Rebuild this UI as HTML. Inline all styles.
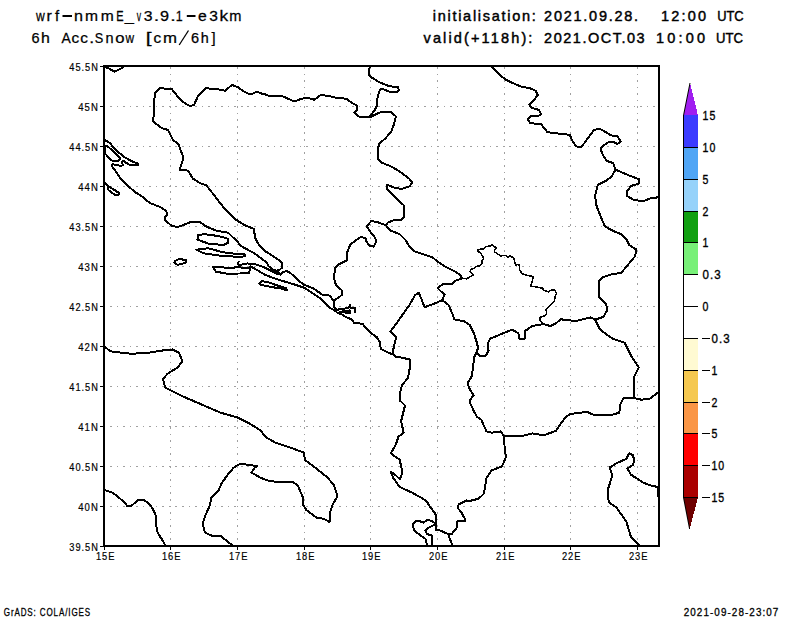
<!DOCTYPE html><html><head><meta charset="utf-8"><style>html,body{margin:0;padding:0;background:#fff;width:800px;height:618px;overflow:hidden}svg{display:block}text{font-family:"Liberation Sans",sans-serif;fill:#000}</style></head><body>
<svg width="800" height="618" viewBox="0 0 800 618">
<path d="M170.5,67V545 M237.5,67V545 M304.5,67V545 M370.5,67V545 M437.5,67V545 M504.5,67V545 M570.5,67V545 M637.5,67V545" stroke="#a0a0a0" stroke-width="1" stroke-dasharray="1.6 4.945" stroke-dashoffset="0" fill="none" shape-rendering="crispEdges"/>
<path d="M104,106.5H658 M104,146.5H658 M104,186.5H658 M104,226.5H658 M104,266.5H658 M104,306.5H658 M104,346.5H658 M104,386.5H658 M104,426.5H658 M104,466.5H658 M104,506.5H658" stroke="#a0a0a0" stroke-width="1" stroke-dasharray="1.6 4.945" stroke-dashoffset="0.545" fill="none" shape-rendering="crispEdges"/>
<path d="M104.0,66.5 L109.0,68.5 L114.6,71.7 L122.0,68.0 L124.0,66.5 M276.0,271.0 L279.9,269.5 L282.1,267.7 L281.6,262.5 L279.9,260.7 L272.0,255.5 L265.0,251.1 L258.9,245.0 L255.2,238.0 L253.8,228.9 L244.1,225.0 L235.3,219.2 L223.7,207.6 L214.0,195.0 L206.2,185.2 L200.4,183.3 L192.6,178.4 L188.3,170.7 L179.6,169.7 L183.5,158.0 L178.6,144.5 L172.8,139.6 L168.0,129.9 L162.1,128.3 L152.8,121.2 L154.0,114.4 L154.4,98.8 L155.3,93.0 L160.2,88.2 L171.8,89.1 L179.6,98.8 L185.4,103.7 L190.3,106.2 L194.2,104.7 L198.0,95.9 L205.8,88.2 L216.5,89.1 L225.2,90.7 L232.0,84.9 L237.8,87.2 L244.6,92.0 L249.4,94.0 L253.3,93.4 L256.8,91.7 L261.1,93.4 L265.9,94.6 L269.8,96.5 L282.4,96.1 L288.3,98.8 L294.1,101.4 L299.9,99.4 L306.7,97.5 L314.5,99.8 L317.4,97.3 L320.9,95.0 L329.0,96.0 L334.9,97.5 L346.5,98.8 L351.4,102.7 L357.2,105.6 L357.2,110.5 L354.3,112.4 L358.2,116.3 L364.0,117.3 L369.7,117.3 M369.7,66.5 L368.7,74.6 L371.7,77.5 L379.4,82.3 L389.1,86.2 L397.9,87.2 L398.8,90.1 L396.9,92.0 L390.1,92.0 L383.3,89.1 L380.4,89.1 L378.4,94.0 L377.1,99.8 L377.5,104.7 L374.6,110.5 L370.7,115.3 L369.7,117.3 M369.7,117.3 L377.5,113.4 L382.3,111.5 L391.1,112.4 L395.9,116.3 L394.0,124.1 L391.1,131.8 L385.2,138.6 L379.4,143.5 L377.5,150.3 L377.5,159.0 L382.3,162.9 L392.0,166.8 L401.0,172.5 L409.0,178.5 L412.2,182.6 L409.3,186.5 L401.6,189.0 L393.8,187.5 L387.0,184.6 L387.0,189.4 L393.8,196.2 L403.5,205.0 L404.5,216.6 L401.6,219.5 L395.7,219.5 L388.0,222.4 L386.0,225.3 M386.0,225.3 L378.3,222.4 L371.5,220.9 L366.6,226.3 L370.5,232.1 L375.3,238.0 L376.3,241.8 L373.4,246.7 L369.5,245.7 L366.6,241.8 L365.6,238.0 L360.8,237.0 L355.0,240.9 L350.1,244.8 L347.3,252.0 L347.3,260.3 L339.0,264.2 L335.2,268.0 L333.8,277.5 L336.0,285.0 L341.5,290.0 L342.3,294.4 L339.6,296.9 L333.7,300.6 M386.0,225.3 L389.9,230.2 L399.6,234.1 L405.4,239.9 L410.3,247.7 L415.1,251.6 L432.6,257.4 L438.4,262.2 L444.3,266.1 L454.0,271.0 L460.1,274.7 L462.0,278.5 M462.0,278.5 L455.2,280.9 L451.4,284.4 L443.0,284.0 L437.5,288.0 L441.7,292.1 L444.6,294.1 L442.3,300.2 M442.3,300.2 L433.9,303.8 L424.5,307.2 L421.6,299.4 L418.6,292.6 L414.8,295.5 L409.9,304.3 L398.3,320.8 L390.5,331.5 L396.3,337.3 L394.4,344.1 L392.4,353.8 L393.4,354.8 M442.3,300.2 L448.4,304.8 L452.3,313.5 L454.3,319.3 L464.0,321.3 L469.8,325.1 L473.7,332.9 L476.6,341.7 L478.1,347.9 L476.8,351.8 M476.8,351.8 L479.4,355.7 L485.9,355.7 L488.5,350.5 L488.3,342.6 L490.2,338.7 L498.9,335.0 L511.8,329.8 L515.5,331.5 L518.5,333.5 L518.5,338.5 L524.5,338.5 L524.5,333.5 L525.1,331.0 L532.5,325.9 L540.3,324.6 L543.6,324.2 M543.6,324.2 L550.6,326.1 L556.2,323.2 L560.6,319.3 L575.8,321.0 L590.9,317.4 L595.0,319.6 M595.0,319.6 L603.3,316.9 L607.4,310.0 L606.1,304.5 L599.2,297.6 L599.2,281.1 L603.3,277.0 L611.6,274.2 L621.2,272.9 L628.1,264.6 L635.0,256.3 L636.3,249.5 L629.5,245.3 L626.7,239.8 L621.2,234.3 L611.6,230.2 L604.7,226.1 L600.6,216.4 L596.4,205.4 L595.0,195.8 L597.8,184.8 L606.1,180.6 L611.6,176.5 L615.5,169.6 M615.5,169.6 L628.1,175.1 L639.1,179.3 L639.1,183.4 L630.8,186.1 L626.7,191.7 L626.7,195.8 L633.6,199.9 L643.2,201.3 L650.1,198.5 L658.5,197.2 M491.1,66.5 L497.4,72.7 L504.9,79.1 L511.2,82.3 L521.9,87.0 L529.3,88.0 L535.7,90.8 L537.8,95.1 L534.6,99.3 L529.3,104.6 L531.4,107.8 L538.9,109.9 L541.0,114.2 L537.8,116.3 L530.4,116.3 L527.8,119.5 L530.4,123.1 L541.0,124.2 L545.2,129.1 L547.4,132.2 L555.9,133.3 L569.7,134.8 L572.9,141.8 L576.1,146.1 L580.3,147.5 L584.6,142.9 L589.9,135.4 L594.1,130.1 L599.4,128.6 L605.8,132.2 L611.1,135.4 L617.5,136.1 L620.7,141.8 L617.5,143.9 L613.2,141.8 L609.0,141.8 L602.6,146.1 L600.5,149.2 L603.7,156.7 L606.9,160.9 L613.2,163.1 L615.5,169.6 M595.0,319.6 L600.0,329.5 L612.8,338.9 L624.5,342.7 L631.0,355.7 L638.8,367.4 L633.6,377.7 L633.6,397.9 M633.6,397.9 L641.3,399.7 L650.4,398.4 L656.9,393.3 L658.5,392.7 M633.6,397.9 L623.2,398.4 L620.6,403.6 L619.3,412.7 L610.3,415.3 L594.7,415.3 L586.9,411.9 L570.1,414.0 L564.9,417.9 L555.9,430.8 L545.5,434.7 L540.3,434.7 L532.5,433.4 L522.2,436.0 L504.0,436.0 M504.0,436.0 L500.7,431.4 L491.7,432.7 L486.5,431.4 L481.3,419.8 L476.8,416.6 L473.6,410.7 L470.4,403.6 L469.7,400.4 L473.6,395.2 L469.1,388.1 L467.8,382.9 L471.7,376.4 L473.0,367.4 L474.2,357.0 L476.8,351.8 M504.0,436.0 L504.6,447.0 L505.9,457.3 L502.0,466.4 L491.7,470.3 L486.5,478.0 L483.9,493.6 L478.7,498.7 L468.4,501.3 L466.5,500.4 L458.6,504.4 L457.7,507.9 L461.2,512.2 L464.7,518.4 L464.7,521.4 L458.6,520.6 L456.9,522.3 L457.3,527.1 L451.6,534.1 M448.1,534.1 L452.5,545.5 M104.5,140.0 L107.5,141.5 L109.8,143.0 L111.8,145.4 L114.1,147.7 L116.8,150.4 L119.5,153.1 L121.5,154.7 L124.6,157.4 L127.3,158.6 L131.1,160.9 L137.6,163.5 L138.5,165.1 L130.4,165.1 L127.2,163.5 L123.0,160.6 L122.0,161.6 L122.7,165.4 L120.1,166.1 L118.1,164.8 L114.9,164.8 L112.3,164.1 L111.7,165.8 L112.5,167.0 L115.0,170.0 L120.0,178.0 L128.0,186.0 L135.0,192.0 L138.0,194.0 L143.0,197.0 L146.0,200.0 L150.0,203.0 L155.0,205.0 L159.9,206.9 L166.3,210.9 L167.2,215.0 L164.7,217.4 L165.5,220.6 L171.2,225.5 L176.9,227.1 L184.1,224.7 L191.3,221.7 L200.0,221.8 L204.9,225.9 L216.5,230.8 L228.2,232.7 L237.3,241.6 L241.0,246.0 L255.5,254.0 L266.7,262.5 L268.5,266.0 L272.0,269.1 L277.2,271.2 L280.7,274.7 L282.5,272.1 L286.9,271.2 L290.4,273.0 L300.0,281.7 L303.8,284.7 L313.5,288.5 L323.2,295.3 L329.4,295.5 L333.7,300.6 L333.7,306.7 L336.6,309.7 M238.7,261.6 L237.9,264.2 L239.6,265.1 L247.5,263.4 L257.1,264.7 L265.0,267.7 L272.0,271.2 L277.2,273.9 L280.7,274.7 M251.0,266.4 L254.5,268.6 L265.0,274.7 L273.7,278.2 L282.5,280.9 L291.2,283.5 L296.5,285.2 L303.8,287.6 L311.6,292.4 L321.3,299.2 L329.4,307.5 L334.5,310.4 L338.1,313.3 L342.5,314.7 L345.4,316.9 L351.2,319.1 L354.1,322.8 L359.9,323.5 L362.8,324.2 L365.8,327.8 L371.3,333.2 L376.9,337.3 L379.8,342.1 L380.8,348.9 L386.6,351.8 L393.4,354.8 L395.3,356.7 L402.1,357.7 L409.9,359.6 L409.9,367.4 L408.0,378.1 L402.1,384.9 L400.2,392.6 L399.8,400.4 L405.0,405.5 L401.1,421.1 L403.7,432.7 L398.5,436.6 L395.9,444.4 L390.7,453.4 L399.8,459.9 L402.4,472.8 L399.8,479.3 L395.9,475.4 L390.7,471.6 L393.3,478.0 L399.8,487.1 L411.4,492.3 L422.7,498.5 L427.1,501.7 L429.7,506.6 L435.0,513.1 L435.9,515.7 L435.9,530.2 L439.4,530.2 L448.1,534.1 L451.6,534.1 M337.4,309.7 L341.7,308.9 L348.3,308.2 L350.1,304.6 L350.5,307.5 L354.8,307.5 L355.2,312.2 M339.6,311.6 L345.0,312.5 L350.5,313.3 L349.5,310.5 L343.0,310.8 M435.9,523.6 L433.2,525.4 L428.0,528.0 L425.4,530.6 L427.1,534.1 L431.9,535.4 L431.9,545.5 M435.9,523.6 L432.4,521.4 L428.0,519.7 L423.2,522.7 L420.1,521.4 L415.7,521.4 L413.1,523.6 L413.1,527.1 L414.9,531.5 L420.1,535.0 L425.4,538.9 L427.1,545.5 M658.5,487.2 L650.6,485.4 L643.4,482.8 L631.0,474.7 L627.4,468.5 L632.8,465.0 L634.5,460.5 L632.8,455.1 L629.2,453.4 L626.5,458.7 L616.7,463.2 L609.6,467.6 L612.3,475.6 L607.8,489.9 L608.7,502.4 L616.7,507.7 L626.5,522.0 L631.0,537.1 L639.9,545.5 M104.5,346.3 L110.0,351.3 L120.0,352.5 L131.3,353.8 L150.0,352.5 L162.5,350.5 L172.5,349.5 L178.8,352.5 L182.5,361.3 L177.5,367.5 L167.5,373.8 L163.0,378.8 L165.0,387.5 L172.5,391.3 L182.5,396.3 L200.0,403.8 L220.0,412.5 L237.5,417.5 L250.0,423.8 L260.0,430.0 L266.3,437.5 L275.0,442.5 L290.0,447.5 L303.8,452.5 L305.0,460.0 L315.0,467.5 L327.5,477.5 L333.8,485.0 L337.5,496.3 L332.5,505.0 L330.0,512.5 L329.5,522.0 L323.8,518.8 L316.3,517.5 L306.3,510.0 L302.5,503.8 L302.5,496.3 L297.5,485.0 L292.5,482.0 L282.5,482.0 L270.0,481.3 L260.0,477.5 L251.3,472.5 L255.0,467.5 L257.5,466.3 L250.0,465.0 L240.0,463.8 L233.8,467.5 L227.5,475.0 L221.3,483.8 L218.8,490.0 L211.3,497.5 L210.0,505.0 L205.0,516.3 L202.5,523.8 L205.0,532.5 L211.3,535.5 L220.0,535.5 L232.5,545.5 M104.5,490.1 L107.8,491.0 L112.3,492.7 L116.8,495.9 L125.3,503.0 L127.2,506.0 L131.7,505.6 L138.2,500.0 L143.4,500.0 L147.9,502.4 L152.5,508.2 L155.7,515.3 L156.3,525.7 L157.6,532.8 L161.5,538.7 L165.4,545.5 M657.5,487.0 L657.5,496.5 M105.0,146.0 L106.3,145.8 L108.7,147.3 L111.4,149.7 L114.1,152.4 L116.8,154.7 L119.9,157.4 L120.3,159.0 L118.8,160.5 L115.7,161.1 L112.5,160.9 L109.0,158.2 L106.3,154.7 L105.0,154.3Z M104.5,182.0 L108.0,186.0 L108.5,190.0 L115.0,195.0 L118.5,194.5 L119.0,193.0 L113.0,189.0 L108.5,186.5Z M198.4,234.8 L205.2,234.2 L218.8,236.1 L227.6,238.6 L228.5,242.5 L223.7,244.9 L209.1,243.9 L197.5,239.6Z M196.5,249.7 L208.2,248.3 L222.7,252.2 L238.3,254.2 L245.0,254.4 L245.3,256.4 L237.0,256.8 L218.8,255.5 L203.3,253.2Z M174.8,260.9 L179.6,258.9 L186.4,260.3 L185.4,262.8 L177.7,264.8 L174.2,262.8Z M213.0,266.8 L228.5,267.8 L238.7,267.3 L247.5,268.2 L250.0,267.3 L249.2,273.0 L240.0,273.5 L226.6,273.6 L215.9,271.7Z M258.9,283.5 L261.5,281.3 L266.7,281.7 L275.5,284.8 L286.0,288.3 L286.9,290.5 L282.5,288.7 L271.1,287.0 L260.6,284.8Z" stroke="#000" stroke-width="2.0" fill="none" stroke-linejoin="round" stroke-linecap="round" shape-rendering="crispEdges"/>
<path d="M462.0,278.6 L465.0,278.6 L466.9,279.0 L469.5,276.8 L473.3,275.3 L471.4,273.0 L469.9,271.5 L471.4,269.3 L474.0,268.5 L475.9,266.6 L479.3,265.9 L482.3,263.3 L481.9,261.0 L483.4,258.8 L483.0,256.5 L480.8,253.5 L478.1,251.3 L477.8,249.4 L483.0,249.0 L486.0,246.4 L490.5,246.0 L492.0,244.5 L496.5,248.3 L494.3,249.8 L494.3,252.0 L496.5,253.1 L501.0,256.1 L502.9,255.4 L506.6,255.8 L507.8,257.3 L509.6,255.8 L513.8,258.0 L514.5,260.3 L515.6,265.5 L517.5,264.4 L519.5,265.1 L519.7,270.3 L522.4,273.9 L527.6,275.5 L533.4,276.6 L532.4,280.8 L530.8,286.1 L537.1,287.1 L542.4,288.2 L543.9,290.3 L548.7,291.8 L550.8,290.3 L554.5,289.7 L556.6,293.4 L555.0,296.6 L554.5,300.8 L551.3,304.0 L548.7,307.1 L546.1,309.7 L546.6,314.0 L543.9,316.1 L540.3,317.1 L539.7,320.3 L542.4,323.4 L543.6,324.2" stroke="#000" stroke-width="1.5" fill="none" stroke-linejoin="round" shape-rendering="crispEdges"/>
<path d="M103,66 H660 M104,65 V547 M659,65 V547 M103,546 H660" stroke="#000" stroke-width="2" fill="none"/>
<path d="M104.5,547V550 M170.5,547V550 M237.5,547V550 M304.5,547V550 M370.5,547V550 M437.5,547V550 M504.5,547V550 M570.5,547V550 M637.5,547V550 M100,66.5H103 M100,106.5H103 M100,146.5H103 M100,186.5H103 M100,226.5H103 M100,266.5H103 M100,306.5H103 M100,346.5H103 M100,386.5H103 M100,426.5H103 M100,466.5H103 M100,506.5H103 M100,546.5H103" stroke="#000" stroke-width="1" fill="none"/>
<text x="98.8" y="70.5" font-size="11.5" letter-spacing="1.2" stroke="#000" stroke-width="0.2" text-anchor="end" textLength="29.5" lengthAdjust="spacingAndGlyphs">45.5N</text>
<text x="98.8" y="110.5" font-size="11.5" letter-spacing="1.2" stroke="#000" stroke-width="0.2" text-anchor="end" textLength="20.5" lengthAdjust="spacingAndGlyphs">45N</text>
<text x="98.8" y="150.5" font-size="11.5" letter-spacing="1.2" stroke="#000" stroke-width="0.2" text-anchor="end" textLength="29.5" lengthAdjust="spacingAndGlyphs">44.5N</text>
<text x="98.8" y="190.5" font-size="11.5" letter-spacing="1.2" stroke="#000" stroke-width="0.2" text-anchor="end" textLength="20.5" lengthAdjust="spacingAndGlyphs">44N</text>
<text x="98.8" y="230.5" font-size="11.5" letter-spacing="1.2" stroke="#000" stroke-width="0.2" text-anchor="end" textLength="29.5" lengthAdjust="spacingAndGlyphs">43.5N</text>
<text x="98.8" y="270.5" font-size="11.5" letter-spacing="1.2" stroke="#000" stroke-width="0.2" text-anchor="end" textLength="20.5" lengthAdjust="spacingAndGlyphs">43N</text>
<text x="98.8" y="310.5" font-size="11.5" letter-spacing="1.2" stroke="#000" stroke-width="0.2" text-anchor="end" textLength="29.5" lengthAdjust="spacingAndGlyphs">42.5N</text>
<text x="98.8" y="350.5" font-size="11.5" letter-spacing="1.2" stroke="#000" stroke-width="0.2" text-anchor="end" textLength="20.5" lengthAdjust="spacingAndGlyphs">42N</text>
<text x="98.8" y="390.5" font-size="11.5" letter-spacing="1.2" stroke="#000" stroke-width="0.2" text-anchor="end" textLength="29.5" lengthAdjust="spacingAndGlyphs">41.5N</text>
<text x="98.8" y="430.5" font-size="11.5" letter-spacing="1.2" stroke="#000" stroke-width="0.2" text-anchor="end" textLength="20.5" lengthAdjust="spacingAndGlyphs">41N</text>
<text x="98.8" y="470.5" font-size="11.5" letter-spacing="1.2" stroke="#000" stroke-width="0.2" text-anchor="end" textLength="29.5" lengthAdjust="spacingAndGlyphs">40.5N</text>
<text x="98.8" y="510.5" font-size="11.5" letter-spacing="1.2" stroke="#000" stroke-width="0.2" text-anchor="end" textLength="20.5" lengthAdjust="spacingAndGlyphs">40N</text>
<text x="98.8" y="550.5" font-size="11.5" letter-spacing="1.2" stroke="#000" stroke-width="0.2" text-anchor="end" textLength="29.5" lengthAdjust="spacingAndGlyphs">39.5N</text>
<text x="105.7" y="559.8" font-size="11.5" letter-spacing="1.2" stroke="#000" stroke-width="0.2" text-anchor="middle" textLength="19.5" lengthAdjust="spacingAndGlyphs">15E</text>
<text x="171.7" y="559.8" font-size="11.5" letter-spacing="1.2" stroke="#000" stroke-width="0.2" text-anchor="middle" textLength="19.5" lengthAdjust="spacingAndGlyphs">16E</text>
<text x="238.7" y="559.8" font-size="11.5" letter-spacing="1.2" stroke="#000" stroke-width="0.2" text-anchor="middle" textLength="19.5" lengthAdjust="spacingAndGlyphs">17E</text>
<text x="305.7" y="559.8" font-size="11.5" letter-spacing="1.2" stroke="#000" stroke-width="0.2" text-anchor="middle" textLength="19.5" lengthAdjust="spacingAndGlyphs">18E</text>
<text x="371.7" y="559.8" font-size="11.5" letter-spacing="1.2" stroke="#000" stroke-width="0.2" text-anchor="middle" textLength="19.5" lengthAdjust="spacingAndGlyphs">19E</text>
<text x="438.7" y="559.8" font-size="11.5" letter-spacing="1.2" stroke="#000" stroke-width="0.2" text-anchor="middle" textLength="19.5" lengthAdjust="spacingAndGlyphs">20E</text>
<text x="505.7" y="559.8" font-size="11.5" letter-spacing="1.2" stroke="#000" stroke-width="0.2" text-anchor="middle" textLength="19.5" lengthAdjust="spacingAndGlyphs">21E</text>
<text x="571.7" y="559.8" font-size="11.5" letter-spacing="1.2" stroke="#000" stroke-width="0.2" text-anchor="middle" textLength="19.5" lengthAdjust="spacingAndGlyphs">22E</text>
<text x="638.7" y="559.8" font-size="11.5" letter-spacing="1.2" stroke="#000" stroke-width="0.2" text-anchor="middle" textLength="19.5" lengthAdjust="spacingAndGlyphs">23E</text>
<text x="432.70" y="20.5" font-size="14.5" stroke="#000" stroke-width="0.45" textLength="103.20" lengthAdjust="spacing">initialisation:</text>
<text x="544.10" y="20.5" font-size="14.5" stroke="#000" stroke-width="0.45" textLength="94.00" lengthAdjust="spacing">2021.09.28.</text>
<text x="661.00" y="20.5" font-size="14.5" stroke="#000" stroke-width="0.45" textLength="45.00" lengthAdjust="spacing">12:00</text>
<text x="717.20" y="20.5" font-size="14.5" stroke="#000" stroke-width="0.45" textLength="26.50" lengthAdjust="spacingAndGlyphs">UTC</text>
<text x="423.50" y="42.5" font-size="14.5" stroke="#000" stroke-width="0.45" textLength="108.90" lengthAdjust="spacing">valid(+118h):</text>
<text x="544.10" y="42.5" font-size="14.5" stroke="#000" stroke-width="0.45" textLength="100.60" lengthAdjust="spacing">2021.OCT.03</text>
<text x="656.00" y="42.5" font-size="14.5" stroke="#000" stroke-width="0.45" textLength="49.20" lengthAdjust="spacing">10:00</text>
<text x="716.00" y="42.5" font-size="14.5" stroke="#000" stroke-width="0.45" textLength="27.00" lengthAdjust="spacingAndGlyphs">UTC</text>
<text x="3.75" y="616" font-size="11" letter-spacing="1.2" stroke="#000" stroke-width="0.3" textLength="87.25" lengthAdjust="spacingAndGlyphs">GrADS: COLA/IGES</text>
<text x="683.75" y="616" font-size="11" letter-spacing="1.2" stroke="#000" stroke-width="0.3" textLength="95.65" lengthAdjust="spacingAndGlyphs">2021-09-28-23:07</text>
<g font-size="14.5" stroke="#000" stroke-width="0.25"><text transform="translate(35.90,21) scale(0.838,1)" x="0" y="0">w</text><text transform="translate(46.49,21) scale(1.111,1)" x="0" y="0">r</text><text transform="translate(54.99,21) scale(1.026,1)" x="0" y="0">f</text><text transform="translate(73.99,21) scale(1.115,1)" x="0" y="0">n</text><text transform="translate(85.02,21) scale(1.079,1)" x="0" y="0">m</text><text transform="translate(100.82,21) scale(1.079,1)" x="0" y="0">m</text><text transform="translate(116.19,21) scale(0.759,1)" x="0" y="0">E</text><text transform="translate(124.83,21) scale(1.131,1)" x="0" y="0">_</text><text transform="translate(136.74,21) scale(0.600,1)" x="0" y="0">v</text><text transform="translate(143.76,21) scale(1.087,1)" x="0" y="0">3</text><text transform="translate(153.64,21) scale(1.357,1)" x="0" y="0">.</text><text transform="translate(160.02,21) scale(1.119,1)" x="0" y="0">9</text><text transform="translate(170.14,21) scale(1.357,1)" x="0" y="0">.</text><text transform="translate(175.76,21) scale(0.857,1)" x="0" y="0">1</text><text transform="translate(198.05,21) scale(1.088,1)" x="0" y="0">e</text><text transform="translate(209.16,21) scale(1.072,1)" x="0" y="0">3</text><text transform="translate(219.51,21) scale(1.194,1)" x="0" y="0">k</text><text transform="translate(229.29,21) scale(1.010,1)" x="0" y="0">m</text><text transform="translate(31.45,42.5) scale(1.000,1)" x="0" y="0">6</text><text transform="translate(41.05,42.5) scale(1.098,1)" x="0" y="0">h</text><text transform="translate(61.50,42.5) scale(0.958,1)" x="0" y="0">A</text><text transform="translate(71.51,42.5) scale(1.063,1)" x="0" y="0">c</text><text transform="translate(80.26,42.5) scale(1.063,1)" x="0" y="0">c</text><text transform="translate(89.32,42.5) scale(1.214,1)" x="0" y="0">.</text><text transform="translate(94.68,42.5) scale(0.880,1)" x="0" y="0">S</text><text transform="translate(105.50,42.5) scale(1.000,1)" x="0" y="0">n</text><text transform="translate(115.21,42.5) scale(1.152,1)" x="0" y="0">o</text><text transform="translate(125.40,42.5) scale(0.819,1)" x="0" y="0">w</text><text transform="translate(145.85,42.5) scale(1.448,1)" x="0" y="0">[</text><text transform="translate(153.51,42.5) scale(1.063,1)" x="0" y="0">c</text><text transform="translate(162.99,42.5) scale(1.158,1)" x="0" y="0">m</text><text transform="translate(190.95,42.5) scale(1.000,1)" x="0" y="0">6</text><text transform="translate(200.66,42.5) scale(0.992,1)" x="0" y="0">h</text><text transform="translate(211.55,42.5) scale(1.017,1)" x="0" y="0">]</text></g>
<path d="M62.5,16H72 M186.8,16H195.5" stroke="#000" stroke-width="2" fill="none"/>
<path d="M179.2,45 L188.5,30.5" stroke="#000" stroke-width="1.3" fill="none"/>
<polygon points="683.5,115.5 690,83 698,115.5" fill="#a01ef0" shape-rendering="crispEdges"/>
<path d="M683.5,115.5 L690,83" stroke="#000" stroke-width="1" fill="none"/>
<rect x="683" y="115" width="15" height="33" fill="#3c3cff"/>
<rect x="683" y="147" width="15" height="33" fill="#50a5f5"/>
<rect x="683" y="179" width="15" height="33" fill="#96d2fa"/>
<rect x="683" y="211" width="15" height="32" fill="#11a011"/>
<rect x="683" y="242" width="15" height="33" fill="#78f078"/>
<rect x="683" y="274" width="15" height="33" fill="#ffffff"/>
<rect x="683" y="306" width="15" height="33" fill="#ffffff"/>
<rect x="683" y="338" width="15" height="33" fill="#fffad2"/>
<rect x="683" y="370" width="15" height="33" fill="#f5c850"/>
<rect x="683" y="402" width="15" height="32" fill="#fa9646"/>
<rect x="683" y="433" width="15" height="33" fill="#ff0000"/>
<rect x="683" y="465" width="15" height="33" fill="#aa0000"/>
<polygon points="683.5,497.5 689.6,529 698,497.5" fill="#6e0000" shape-rendering="crispEdges"/>
<path d="M683.5,497.5 L689.6,529" stroke="#000" stroke-width="1" fill="none"/>
<path d="M683.5,115V498" stroke="#000" stroke-width="1" fill="none" shape-rendering="crispEdges"/>
<path d="M683,147.5H698 M683,179.5H698 M683,211.5H698 M683,242.5H698 M683,274.5H698 M683,306.5H698 M683,338.5H698 M683,370.5H698 M683,402.5H698 M683,433.5H698 M683,465.5H698 M683,497.5H698" stroke="#000" stroke-width="1" fill="none" shape-rendering="crispEdges"/>
<text x="702.5" y="120.2" font-size="12.3" letter-spacing="1.2" stroke="#000" stroke-width="0.35" textLength="13.8" lengthAdjust="spacingAndGlyphs">15</text>
<text x="702.5" y="152.2" font-size="12.3" letter-spacing="1.2" stroke="#000" stroke-width="0.35" textLength="13.8" lengthAdjust="spacingAndGlyphs">10</text>
<text x="702.5" y="184.2" font-size="12.3" letter-spacing="1.2" stroke="#000" stroke-width="0.35" textLength="6.9" lengthAdjust="spacingAndGlyphs">5</text>
<text x="702.5" y="216.2" font-size="12.3" letter-spacing="1.2" stroke="#000" stroke-width="0.35" textLength="6.9" lengthAdjust="spacingAndGlyphs">2</text>
<text x="702.5" y="247.2" font-size="12.3" letter-spacing="1.2" stroke="#000" stroke-width="0.35" textLength="6.9" lengthAdjust="spacingAndGlyphs">1</text>
<text x="702.5" y="279.2" font-size="12.3" letter-spacing="1.2" stroke="#000" stroke-width="0.35" textLength="19.4" lengthAdjust="spacingAndGlyphs">0.3</text>
<text x="702.5" y="311.2" font-size="12.3" letter-spacing="1.2" stroke="#000" stroke-width="0.35" textLength="6.9" lengthAdjust="spacingAndGlyphs">0</text>
<rect x="702" y="338" width="8" height="1" fill="#000"/>
<text x="711.4" y="343.2" font-size="12.3" letter-spacing="1.2" stroke="#000" stroke-width="0.35" textLength="19.4" lengthAdjust="spacingAndGlyphs">0.3</text>
<rect x="702" y="370" width="8" height="1" fill="#000"/>
<text x="711.4" y="375.2" font-size="12.3" letter-spacing="1.2" stroke="#000" stroke-width="0.35" textLength="6.9" lengthAdjust="spacingAndGlyphs">1</text>
<rect x="702" y="402" width="8" height="1" fill="#000"/>
<text x="711.4" y="407.2" font-size="12.3" letter-spacing="1.2" stroke="#000" stroke-width="0.35" textLength="6.9" lengthAdjust="spacingAndGlyphs">2</text>
<rect x="702" y="433" width="8" height="1" fill="#000"/>
<text x="711.4" y="438.2" font-size="12.3" letter-spacing="1.2" stroke="#000" stroke-width="0.35" textLength="6.9" lengthAdjust="spacingAndGlyphs">5</text>
<rect x="702" y="465" width="8" height="1" fill="#000"/>
<text x="711.4" y="470.2" font-size="12.3" letter-spacing="1.2" stroke="#000" stroke-width="0.35" textLength="13.8" lengthAdjust="spacingAndGlyphs">10</text>
<rect x="702" y="497" width="8" height="1" fill="#000"/>
<text x="711.4" y="502.2" font-size="12.3" letter-spacing="1.2" stroke="#000" stroke-width="0.35" textLength="13.8" lengthAdjust="spacingAndGlyphs">15</text>
</svg></body></html>
